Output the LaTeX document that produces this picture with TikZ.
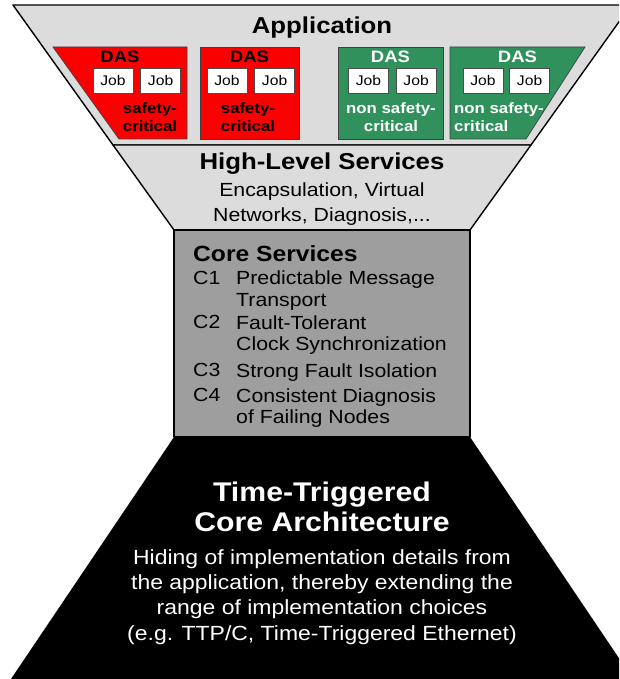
\documentclass[tikz,border=0pt]{standalone}
\usepackage{fontspec}
\setmainfont{Liberation Sans}[FakeStretch=1.12]
\usetikzlibrary{positioning}
\definecolor{funnelgray}{RGB}{220,220,220}
\definecolor{coregray}{RGB}{158,158,158}
\definecolor{dasred}{RGB}{250,0,0}
\definecolor{dasgreen}{RGB}{48,145,92}
\tikzset{
  layer/.style={draw=black, line width=1.4pt, line join=round},
  dasbox/.style={draw=black!75, line width=0.7pt},
  job/.style={draw=black!70, fill=white, line width=0.6pt, minimum width=40pt,
              minimum height=25pt, inner sep=0pt, font=\fontsize{14}{16}\selectfont},
  head/.style={inner sep=0pt, font=\fontsize{23}{27}\selectfont\bfseries},
  dastitle/.style={inner sep=0pt, anchor=base, font=\fontsize{16.5}{18}\selectfont\bfseries},
  dasnote/.style={inner sep=0pt, font=\fontsize{15}{18.5}\selectfont\bfseries},
  item/.style={inner sep=0pt, anchor=north west, align=left, font=\fontsize{19}{21.5}\selectfont},
}

\begin{document}
\begin{tikzpicture}[x=1pt, y=-1pt]
    \useasboundingbox (0,0) rectangle (619,679);
    \clip (0,0) rectangle (619,679);
    % funnel layers
    \draw[layer, fill=funnelgray] (13,5) -- (631,5) -- (531,145) -- (113,145) -- cycle;
    \draw[layer, fill=funnelgray] (113,145) -- (531,145) -- (470,230) -- (174,230) -- cycle;
    \draw[layer, fill=coregray] (174,230) rectangle (470,437);
    \fill[black] (174,437) -- (470,437) -- (633,679) -- (11,679) -- cycle;

    % DAS boxes
    \draw[dasbox, fill=dasred]   (53,47) -- (187,47) -- (187,139) -- (119,139) -- cycle;
    \draw[dasbox, fill=dasred]   (200,47) rectangle (299,139);
    \draw[dasbox, fill=dasgreen] (338,47) rectangle (443,139);
    \draw[dasbox, fill=dasgreen] (450,47) -- (585,47) -- (526,139) -- (450,139) -- cycle;

    \node[head, anchor=base] (app) at (322,34) {Application};

    \node[dastitle]        (das1) at (120,62.5)   {DAS};
    \node[dastitle]        (das2) at (249.5,62.5) {DAS};
    \node[dastitle, white] (das3) at (390.5,62.5) {DAS};
    \node[dastitle, white] (das4) at (517.5,62.5) {DAS};

    \node[job] (job1a) at (113,80.5)   {Job};
    \node[job, right=7pt of job1a] (job1b) {Job};
    \node[job] (job2a) at (227,80.5)   {Job};
    \node[job, right=7pt of job2a] (job2b) {Job};
    \node[job] (job3a) at (368.5,80.5) {Job};
    \node[job, right=7pt of job3a] (job3b) {Job};
    \node[job] (job4a) at (483,80.5)   {Job};
    \node[job, right=6pt of job4a] (job4b) {Job};

    \node[dasnote, align=center]        (note1) at (150,117) {safety-\\critical};
    \node[dasnote, align=center]        (note2) at (248,117) {safety-\\critical};
    \node[dasnote, align=center, white] (note3) at (391,117) {non safety-\\critical};
    \node[dasnote, align=left, white, anchor=west] (note4) at (454,117) {non safety-\\critical};

    % high-level services
    \node[head, anchor=base] (hls) at (322,170) {High-Level Services};
    \node[inner sep=0pt, align=center, font=\fontsize{19}{25}\selectfont]
        (hlsdesc) at (322,204) {Encapsulation, Virtual\\Networks, Diagnosis,...};

    % core services
    \node[head, anchor=base west, font=\fontsize{22}{24}\selectfont\bfseries]
        (core) at (193,261) {Core Services};
    \node[item] (c1n) at (193,270.7) {C1};
    \node[item] (c1)  at (236,270.7) {Predictable Message\\Transport};
    \node[item] (c2n) at (193,315.2) {C2};
    \node[item] (c2)  at (236,315.2) {Fault-Tolerant\\Clock Synchronization};
    \node[item] (c3n) at (193,363.2) {C3};
    \node[item] (c3)  at (236,363.2) {Strong Fault Isolation};
    \node[item] (c4n) at (193,388.2) {C4};
    \node[item] (c4)  at (236,388.2) {Consistent Diagnosis\\of Failing Nodes};

    % core architecture
    \node[head, white, align=center, font=\fontsize{27}{30}\selectfont\bfseries]
        (ttca) at (322,507) {Time-Triggered\\Core Architecture};
    \node[white, inner sep=0pt, align=center, font=\fontsize{20.5}{25.3}\selectfont]
        (ttcadesc) at (322,597) {Hiding of implementation details from\\the application, thereby extending the\\range of implementation choices\\(e.g. TTP/C, Time-Triggered Ethernet)};
\end{tikzpicture}
\end{document}
